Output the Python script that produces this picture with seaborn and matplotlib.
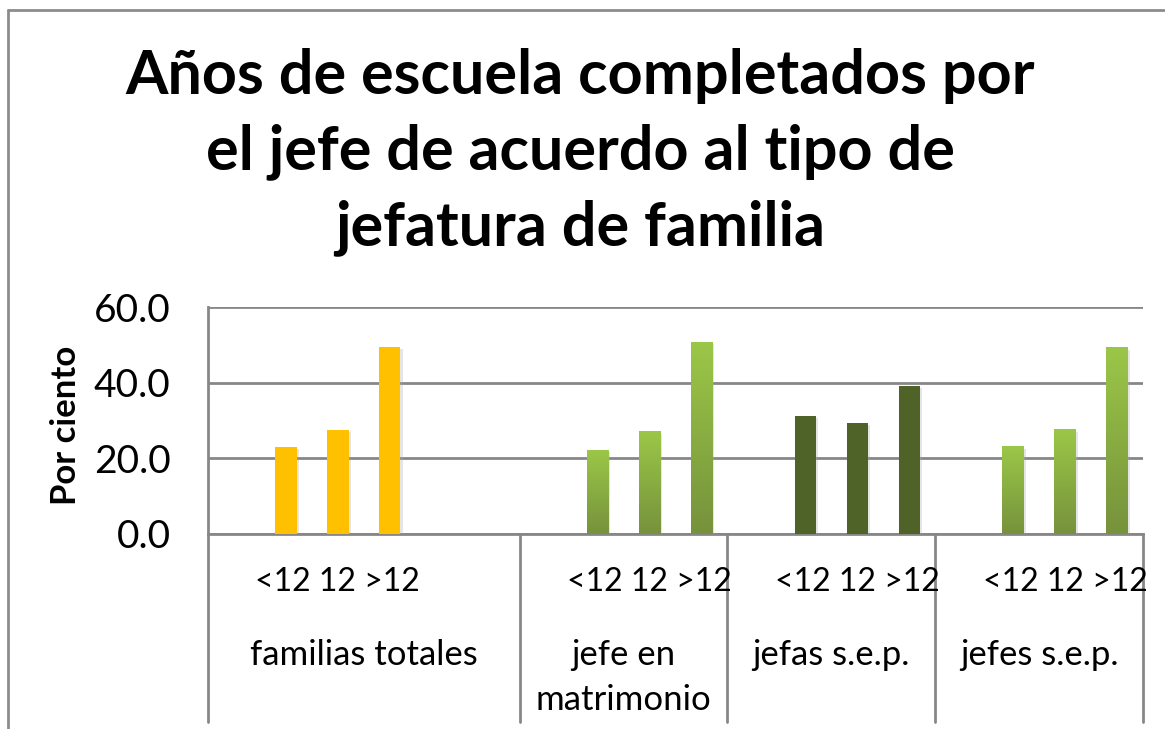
import numpy as np
import pandas as pd
import matplotlib
matplotlib.use("Agg")
import matplotlib.pyplot as plt
import matplotlib.patheffects as pe
from matplotlib.colors import LinearSegmentedColormap
from matplotlib.lines import Line2D
from matplotlib.transforms import blended_transform_factory
import seaborn as sns

# data
groups = ["familias totales", "jefe en\nmatrimonio", "jefas s.e.p.", "jefes s.e.p."]
levels = ["<12", "12", ">12"]
familias_totales = [23.1, 27.5, 49.4]
jefe_matrimonio = [22.2, 27.0, 50.7]
jefas_sep = [31.2, 29.4, 39.2]
jefes_sep = [23.0, 27.5, 49.2]

title = "Años de escuela completados por\nel jefe de acuerdo al tipo de\njefatura de familia"
ylabel = "Por ciento"
yticks = [0, 20, 40, 60]

values = [familias_totales, jefe_matrimonio, jefas_sep, jefes_sep]

# long table
rows = []
for g, vals in zip(groups, values):
    for lev, v in zip(levels, vals):
        rows.append({"grupo": g, "slot": g + "|" + lev, "valor": v})
df = pd.DataFrame(rows)

# category slots: one blank before each group, first group has two extra blanks after
order = []
group_start = []
for i, g in enumerate(groups):
    group_start.append(len(order))
    order.append(g + "|_a")
    order += [g + "|" + lev for lev in levels]
    if i == 0:
        order += [g + "|_b", g + "|_c"]
group_start.append(len(order))

palette = {groups[0]: "#FFC000", groups[1]: "#8DB543",
           groups[2]: "#4F6228", groups[3]: "#8DB543"}
gradient_groups = [groups[1], groups[3]]

sns.set_style("white")
plt.rcParams["font.family"] = ["Lato", "DejaVu Sans"]
plt.rcParams["text.color"] = "black"
plt.rcParams["ytick.color"] = "black"

W, H = 1165, 729
fig = plt.figure(figsize=(W / 100, H / 100), dpi=100)
x0, x1, ytop, ybot = 208, 1143, 307, 534
ax = fig.add_axes([x0 / W, 1 - ybot / H, (x1 - x0) / W, (ybot - ytop) / H])

sns.barplot(data=df, x="slot", y="valor", hue="grupo", order=order,
            palette=palette, dodge=False, width=0.41, legend=False,
            saturation=1, ax=ax, zorder=3)

# gradient fill on the light green bars, soft shadow on all
cmap = LinearSegmentedColormap.from_list("verde", ["#76923C", "#9BC748"])
grad = np.linspace(0, 1, 256).reshape(-1, 1)
for p in ax.patches:
    p.set_edgecolor("none")
    p.set_path_effects([pe.SimplePatchShadow(offset=(1.5, -1.5), shadow_rgbFace="#aaaaaa", alpha=0.3),
                        pe.Normal()])
    xc = p.get_x() + p.get_width() / 2
    slot = int(round(xc))
    g = order[slot].split("|")[0]
    if g in gradient_groups:
        ax.imshow(grad, extent=[p.get_x(), p.get_x() + p.get_width(), 0, p.get_height()],
                  origin="lower", aspect="auto", cmap=cmap, zorder=4)

ax.set_xlim(-0.5, len(order) - 0.5)
ax.set_ylim(0, 60)
ax.set_yticks(yticks)
ax.set_yticklabels([f"{t:.1f}" for t in yticks], fontsize=28)
ax.tick_params(axis="y", length=0, pad=27)
ax.set_xticks([])
ax.set_xlabel("")
ax.set_ylabel("")
ax.yaxis.grid(True, color="#878787", lw=2, zorder=0)
ax.set_axisbelow(True)
for side in ["top", "right"]:
    ax.spines[side].set_visible(False)
for side in ["left", "bottom"]:
    ax.spines[side].set_color("#878787")
    ax.spines[side].set_linewidth(2)

# multi-level category axis
trans = blended_transform_factory(ax.transData, ax.transAxes)
ax_h = ybot - ytop
for b in group_start:
    ax.add_line(Line2D([b - 0.5, b - 0.5], [0, -(722 - ybot) / ax_h], transform=trans,
                       color="#878787", lw=2, clip_on=False))
for i, g in enumerate(groups):
    mid = group_start[i] + 2
    ax.text(mid, -(582 - ybot) / ax_h, " ".join(levels), transform=trans,
            ha="center", va="center", fontsize=23)
    gx = (group_start[i] + group_start[i + 1] - 1) / 2
    for k, line in enumerate(g.split("\n")):
        ax.text(gx, -(655 + 45 * k - ybot) / ax_h, line, transform=trans,
                ha="center", va="center", fontsize=25)

fig.text(66 / W, 1 - 425 / H, ylabel, rotation=90, ha="center", va="center",
         fontsize=25, fontweight="bold")
fig.text(580 / W, 1 - 152 / H, title, ha="center", va="center",
         fontsize=44, fontweight="bold", linespacing=1.42)

# outer chart frame (left and top edges)
fig.add_artist(Line2D([7.5 / W, 7.5 / W], [0, 1 - 10 / H], transform=fig.transFigure,
                      color="#8c8c8c", lw=2))
fig.add_artist(Line2D([7.5 / W, 1], [1 - 10 / H, 1 - 10 / H], transform=fig.transFigure,
                      color="#8c8c8c", lw=2))

fig.savefig("out.png", dpi=100)
